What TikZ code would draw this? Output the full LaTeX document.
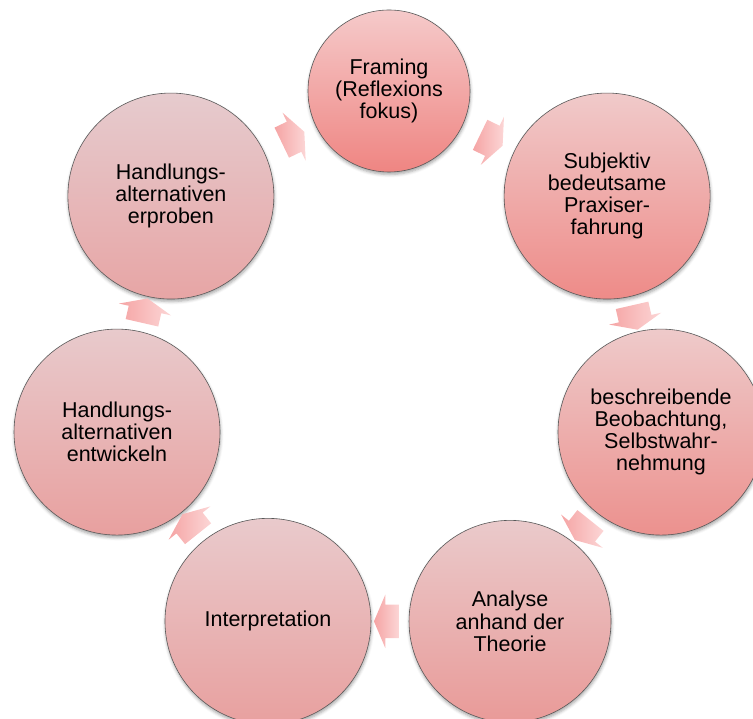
\documentclass[tikz,border=0pt]{standalone}
\usepackage{fontspec}
\setmainfont{Liberation Sans}
\usetikzlibrary{shapes.arrows,shadows.blur,positioning}

\definecolor{topA}{HTML}{F5CACA}\definecolor{botA}{HTML}{EF8582}
\definecolor{topB}{HTML}{F0CACA}\definecolor{botB}{HTML}{EE8B88}
\definecolor{topC}{HTML}{EECACA}\definecolor{botC}{HTML}{EC918E}
\definecolor{topD}{HTML}{EACACB}\definecolor{botD}{HTML}{E99A98}
\definecolor{topE}{HTML}{E9CACC}\definecolor{botE}{HTML}{E8A09F}
\definecolor{topF}{HTML}{E8CACC}\definecolor{botF}{HTML}{E8A09F}
\definecolor{topG}{HTML}{E6CBCE}\definecolor{botG}{HTML}{E7A5A5}
\definecolor{arrowtail}{HTML}{F5A4A4}
\definecolor{arrowtip}{HTML}{FCD6D6}

\begin{document}
\begin{tikzpicture}[x=1pt, y=1pt,
        stage/.style={circle, draw=black!65, line width=0.6pt, minimum size=206pt, inner sep=0pt,
        align=center, text=black, font=\fontsize{21.5}{22.2}\selectfont,
        blur shadow={shadow xshift=0.5pt, shadow yshift=-2.5pt, shadow blur radius=3pt, shadow opacity=35}},
        flow/.style={single arrow, minimum height=25pt, minimum width=53pt, inner xsep=0pt, inner ysep=16.5pt,
        single arrow head extend=10pt, single arrow tip angle=134,
        left color=arrowtail, right color=arrowtip, sloped, allow upside down}]
    \useasboundingbox (0,0) rectangle (753,719);
    \begin{scope}[shift={(389,349)}]
        \node [stage, minimum size=162pt, top color=topA, bottom color=botA] (framing) at (90:279)
            {Framing\\(Reflexions\\fokus)};
        \node [stage, top color=topB, bottom color=botB] (praxis) at (38.57:279)
            {Subjektiv\\bedeutsame\\Praxiser-\\fahrung};
        \node [stage, top color=topC, bottom color=botC] (beobachtung) at (-12.86:279)
            {beschreibende\\Beobachtung,\\Selbstwahr-\\nehmung};
        \node [stage, minimum size=202pt, top color=topD, bottom color=botD] (analyse) at (-64.29:279)
            {Analyse\\anhand der\\Theorie};
        \node [stage, top color=topE, bottom color=botE] (interpretation) at (-115.71:279)
            {Interpretation};
        \node [stage, top color=topF, bottom color=botF] (entwickeln) at (-167.14:279)
            {Handlungs-\\alternativen\\entwickeln};
        \node [stage, top color=topG, bottom color=botG] (erproben) at (141.43:279)
            {Handlungs-\\alternativen\\erproben};
    \end{scope}
    % Pfeile zwischen den Kreisen
    \path (framing) -- node [flow] {} (praxis);
    \path (praxis) -- node [flow] {} (beobachtung);
    \path (beobachtung) -- node [flow] {} (analyse);
    \path (analyse) -- node [flow] {} (interpretation);
    \path (interpretation) -- node [flow] {} (entwickeln);
    \path (entwickeln) -- node [flow] {} (erproben);
    \path (erproben) -- node [flow] {} (framing);
\end{tikzpicture}
\end{document}
